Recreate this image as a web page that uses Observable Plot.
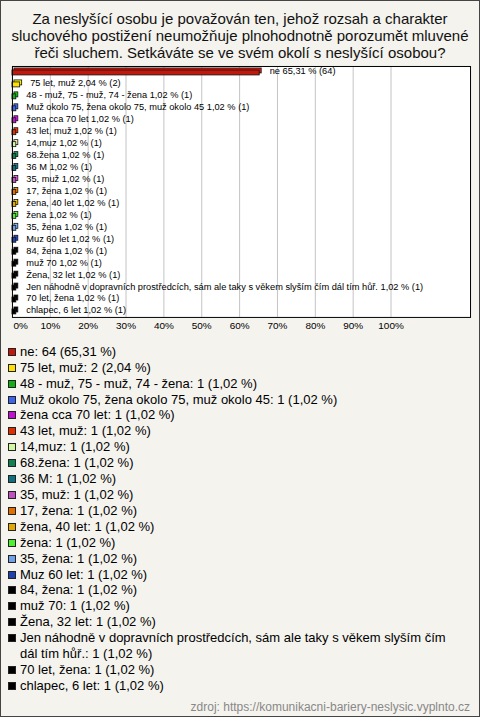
<!DOCTYPE html>
<html>
<head>
<meta charset="utf-8">
<script src="https://cdn.jsdelivr.net/npm/d3@7"></script>
<script src="https://cdn.jsdelivr.net/npm/@observablehq/plot@0.6"></script>
<style>
  body { margin: 0; }
  #chart { position: relative; width: 480px; height: 717px; box-sizing: border-box; border: 1px solid #444; background: #f4f3ee; font-family: "Liberation Sans", Arial, sans-serif; overflow: hidden; color: #000; }
  #title { text-align: center; font-size: 15px; line-height: 17px; padding-top: 9px; height: 52px; color: #111; }
  #plot svg { display: block; }
  #legend { margin-top: 3px; font-size: 13px; line-height: 15.9px; width: 460px; }
  .item { position: relative; padding-left: 19px; }
  .sw { position: absolute; left: 7px; top: 4px; width: 6px; height: 6px; border: 1px solid #222; }
  #source { position: absolute; right: 9px; bottom: 2px; font-size: 12px; line-height: 14px; color: #888; }
</style>
</head>
<body>
<div id="chart">
  <div id="title">Za neslyšící osobu je považován ten, jehož rozsah a charakter<br>sluchového postižení neumožňuje plnohodnotně porozumět mluvené<br>řeči sluchem. Setkáváte se ve svém okolí s neslyšící osobou?</div>
  <div id="plot"></div>
  <div id="legend"></div>
  <div id="source">zdroj: https://komunikacni-bariery-neslysic.vyplnto.cz</div>
</div>
<script>
const categories = [
  "ne",
  "75 let, muž",
  "48 - muž, 75 - muž, 74 - žena",
  "Muž okolo 75, žena okolo 75, muž okolo 45",
  "žena cca 70 let",
  "43 let, muž",
  "14,muz",
  "68.žena",
  "36 M",
  "35, muž",
  "17, žena",
  "žena, 40 let",
  "žena",
  "35, žena",
  "Muz 60 let",
  "84, žena",
  "muž 70",
  "Žena, 32 let",
  "Jen náhodně v dopravních prostředcích, sám ale taky s věkem slyším čím dál tím hůř.",
  "70 let, žena",
  "chlapec, 6 let"
];
const counts = [64, 2, 1, 1, 1, 1, 1, 1, 1, 1, 1, 1, 1, 1, 1, 1, 1, 1, 1, 1, 1];
const percents = [65.31, 2.04, 1.02, 1.02, 1.02, 1.02, 1.02, 1.02, 1.02, 1.02, 1.02, 1.02, 1.02, 1.02, 1.02, 1.02, 1.02, 1.02, 1.02, 1.02, 1.02];
const colors = [
  "#c0180c", "#ffe000", "#10b010", "#3c64f0", "#c010d0", "#e03000", "#d0f8a0",
  "#108050", "#107080", "#c050c0", "#e07000", "#e0a800", "#50f030", "#70a0e8",
  "#2040b0", "#000000", "#000000", "#000000", "#000000", "#000000", "#000000"
];
const xTicks = [0, 10, 20, 30, 40, 50, 60, 70, 80, 90, 100];

const fmt = v => v.toFixed(2).replace(".", ",");
const rows = categories.map((cat, i) => ({
  cat, n: counts[i], pct: percents[i], color: colors[i],
  top: d3.color(colors[i]).brighter(0.6).formatHex()
}));

const chart = Plot.plot({
  width: 480,
  height: 280,
  marginTop: 4,
  marginBottom: 24,
  marginLeft: 11,
  marginRight: 9,
  x: {domain: [0, 121]},
  y: {domain: categories, axis: null, padding: 0},
  color: {type: "identity"},
  style: {fontFamily: "'Liberation Sans', Arial, sans-serif", background: "transparent", color: "#000"},
  marks: [
    Plot.frame({fill: "white"}),
    Plot.ruleX(xTicks.slice(1), {stroke: "#c4c4c4", strokeWidth: 1}),
    Plot.barX(rows, {x: "pct", y: "cat", fill: "top", stroke: "#111", strokeWidth: 0.8, insetTop: 4, insetBottom: 3, dx: 2, dy: -2}),
    Plot.barX(rows, {x: "pct", y: "cat", fill: "color", stroke: "#111", strokeWidth: 0.8, insetTop: 4, insetBottom: 3}),
    Plot.text(rows, {x: "pct", y: "cat", text: d => `${d.cat} ${fmt(d.pct)} % (${d.n})`, textAnchor: "start", dx: 10, dy: -1, fontSize: 9.3, fill: "#000"}),
    Plot.frame({stroke: "#000", strokeWidth: 1}),
    Plot.axisX([xTicks[0]], {tickSize: 0, tickPadding: 5, tickFormat: d => d + "%", textAnchor: "start", dx: 1, fontSize: 10, label: null}),
    Plot.axisX(xTicks.slice(1), {tickSize: 0, tickPadding: 5, tickFormat: d => d + "%", fontSize: 10, label: null})
  ]
});
document.getElementById("plot").appendChild(chart);

const legend = document.getElementById("legend");
rows.forEach(d => {
  const item = document.createElement("div");
  item.className = "item";
  const sw = document.createElement("span");
  sw.className = "sw";
  sw.style.background = d.color;
  item.appendChild(sw);
  item.appendChild(document.createTextNode(`${d.cat}: ${d.n} (${fmt(d.pct)} %)`));
  legend.appendChild(item);
});
</script>
</body>
</html>
